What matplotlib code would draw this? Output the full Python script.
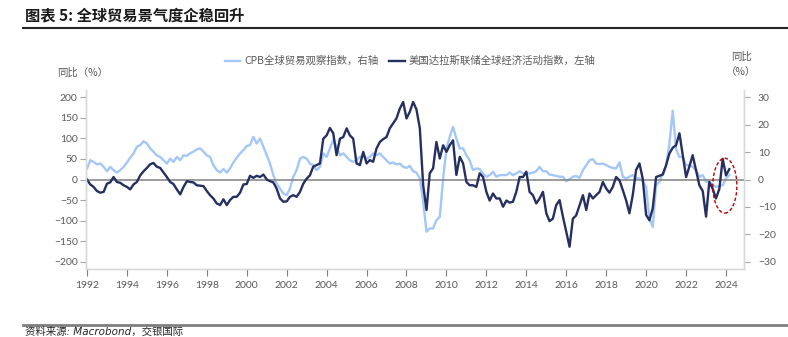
#!/usr/bin/env python3

import numpy as np
import pandas as pd
import matplotlib
matplotlib.use("Agg")
import matplotlib.pyplot as plt
import matplotlib.dates as mdates
from matplotlib.lines import Line2D
from matplotlib.patches import Ellipse

plt.rcParams['font.family'] = ['Noto Sans CJK SC', 'DejaVu Sans']

# bi-monthly readings, Jan 1992 .. Mar 2024
dates = pd.date_range("1992-01-01", periods=194, freq="2MS")

# CPB world trade monitor, yoy %, right axis
cpb = [
    4.0, 7.0, 6.4, 5.5, 5.8, 4.6, 3.0, 4.6, 3.4, 2.5,
    3.4, 4.6, 6.2, 7.9, 9.5, 11.9, 12.5, 13.9, 13.1, 11.3,
    10.1, 8.8, 8.2, 7.0, 5.8, 7.6, 6.4, 8.2, 7.0, 8.8,
    8.6, 9.5, 10.1, 11.0, 11.3, 10.1, 8.8, 8.2, 5.2, 3.4,
    2.5, 3.8, 2.5, 4.0, 6.2, 7.9, 9.5, 10.7, 12.2, 12.5,
    15.5,
    13.1, 14.9, 11.9, 8.8, 5.8, 1.6, -1.5, -3.3, -5.1, -5.7,
    -3.3, 1.0, 3.4, 7.6, 8.2, 7.6, 5.8, 5.2, 3.4, 4.6,
    9.5, 8.2, 11.3, 14.3, 11.9, 8.8, 9.5, 8.2, 7.0, 6.4,
    7.0, 8.2, 8.8, 7.6, 8.2, 9.5, 8.8, 9.5, 8.2, 7.0,
    5.8, 6.2, 5.5, 5.8, 4.6, 4.2, 5.0, 3.0, 2.5,
    0.4, -8.1, -19.0, -17.8, -17.8, -14.8, -13.6, 0.4, 11.3, 15.5,
    19.1, 14.9, 11.3, 11.3, 8.8, 7.0, 3.4, 4.0, 3.8, 2.2,
    1.0, 1.6, 2.8, 1.0, 1.6, 1.6, 1.6, 2.5, 1.6, 2.2,
    3.0, 2.2, 2.2, 2.2, 2.5, 3.0, 4.6, 3.0, 3.0, 1.8,
    1.6, 1.3, 1.0, 1.0, -0.6, 0.1, 1.0, 1.3, 0.6, 3.4,
    5.2, 7.0, 7.4, 5.8, 5.6, 5.8, 5.2, 4.6, 4.2, 4.0,
    6.2, 1.0, 0.4, 1.0, 1.6, 0.4, 0.4, -0.8, -2.7, -14.2,
    -17.2, -2.1, -0.8, 2.2, 5.2, 13.0, 25.0, 11.0, 8.2, 8.2,
    5.2, 5.2, 4.6, 3.4, 1.0, 1.6, -0.8, -0.8, -2.1, -2.7,
    -2.3, -2.1, 0.4, 1.6,
]

# Dallas Fed global economic activity index, left axis
dallas = [
    0, -12, -18, -28, -32, -30, -10, -7, 6, -6,
    -8, -14, -18, -24, -12, -6, 10, 20, 28, 37,
    40, 31, 28, 17, 6, -6, -11, -24, -36, -18,
    -4, -6, -7, -14, -15, -16, -28, -38, -46, -58,
    -62, -48, -62, -50, -42, -42, -32, -12, -11, 9,
    4,
    9, 6, 12, 0, -4, -7, -22, -46, -54, -53,
    -42, -38, -42, -30, -10, 2, 10, 31, 35, 39,
    99, 107, 125, 112, 59, 99, 103, 124, 107, 99,
    39, 35, 67, 39, 47, 43, 75, 91, 98, 103,
    124, 136, 148, 172, 188, 148, 164, 188, 170,
    124, -14, -74, 15, 27, 91, 51, 83, 67, 83,
    95, 11, 55, 39, -6, -14, -14, -18, 15, 6,
    -30, -51, -34, -46, -46, -66, -51, -56, -54, -30,
    6, 6, 19, -30, -38, -58, -46, -30, -82, -101,
    -95, -62, -50, -90, -127, -163, -95, -87, -62, -38,
    -74, -34, -46, -38, -30, -6, -22, -32, -18, 6,
    -2, -26, -51, -82, -38, 23, 39, 1, -86, -99,
    -70, 6, 9, 12, 35, 63, 77, 83, 112, 59,
    6, 31, 59, 23, -14, -28, -90, -6, -22, -46,
    -23, 50, 10, 25,
]

years = list(range(1992, 2025, 2))
left_ticks = list(range(-200, 201, 50))
right_ticks = list(range(-30, 31, 10))

light = '#a3c7f7'
dark = '#262f5f'
grey_txt = '#595959'

W, H = 788, 337
fig = plt.figure(figsize=(W / 100, H / 100), dpi=100)
ax = fig.add_axes([86 / W, 1 - 269 / H, (744 - 86) / W, (269 - 90) / H])
ax2 = ax.twinx()
ax.set_zorder(ax2.get_zorder() + 1)
ax.patch.set_visible(False)

l1, = ax2.plot(dates, cpb, color=light, lw=1.7)
l2, = ax.plot(dates, dallas, color=dark, lw=1.7)
ax.axhline(0, color='#808080', lw=1.1, zorder=1)

ax.set_ylim(-217, 217)
ax2.set_ylim(-32.55, 32.55)
ax.set_yticks(left_ticks)
ax2.set_yticks(right_ticks)
ax.set_xticks([pd.Timestamp(f"{y}-01-01") for y in years])
ax.set_xticklabels([str(y) for y in years])
ax.set_xlim(pd.Timestamp("1991-12-14"), pd.Timestamp("2024-11-25"))

for a in (ax, ax2):
    a.spines['top'].set_visible(False)
    for s in ('left', 'right', 'bottom'):
        a.spines[s].set_color('#d9d9d9')
        a.spines[s].set_linewidth(1.0)
ax.tick_params(axis='y', direction='out', length=4, color='#a6a6a6',
               labelcolor=grey_txt, labelsize=7.5, pad=2)
ax2.tick_params(axis='y', direction='out', length=4, color='#a6a6a6',
                labelcolor=grey_txt, labelsize=7.5, pad=6)
ax.tick_params(axis='x', direction='out', length=5, color='#7f7f7f',
               labelcolor=grey_txt, labelsize=7.5, pad=4)
for lbl in ax.get_xticklabels() + ax.get_yticklabels() + ax2.get_yticklabels():
    lbl.set_fontfamily(['Lato', 'DejaVu Sans'])

# red dashed circle around latest readings
c = mdates.date2num(pd.Timestamp("2023-12-10"))
ax.add_patch(Ellipse((c, -15), 440, 133, fill=False, ec='#c00000',
                     ls=(0, (2.5, 1.5)), lw=1.0, zorder=5))

fig.legend([l1, l2], ['CPB全球贸易观察指数，右轴', '美国达拉斯联储全球经济活动指数，左轴'],
           loc='center', bbox_to_anchor=(410 / W, 1 - 61 / H), ncol=2,
           frameon=False, fontsize=7.5, handlelength=1.5, handletextpad=0.4,
           columnspacing=1.0, labelcolor=grey_txt)

fig.text(57 / W, 1 - 73 / H, '同比（%）', fontsize=7.5, color=grey_txt, va='center')
fig.text(741 / W, 1 - 57 / H, '同比', fontsize=7.5, color=grey_txt, va='center', ha='center')
fig.text(741 / W, 1 - 72 / H, '（%）', fontsize=7.5, color=grey_txt, va='center', ha='center')

fig.text(25 / W, 1 - 15 / H, '图表 5: 全球贸易景气度企稳回升', fontsize=11,
         fontweight='bold', color='#1a1a1a', va='center')
fig.add_artist(Line2D([23 / W, 1], [1 - 28 / H] * 2, color='#262626', lw=1.5))
fig.add_artist(Line2D([23 / W, 1], [1 - 325 / H] * 2, color='#7f7f7f', lw=2.0))
fig.text(25 / W, 1 - 332 / H, '资料来源: Macrobond，交银国际', fontsize=7.5,
         style='italic', family=['DejaVu Sans', 'Noto Sans CJK SC'],
         color='#262626', va='center')

fig.savefig("out.png", dpi=100)
